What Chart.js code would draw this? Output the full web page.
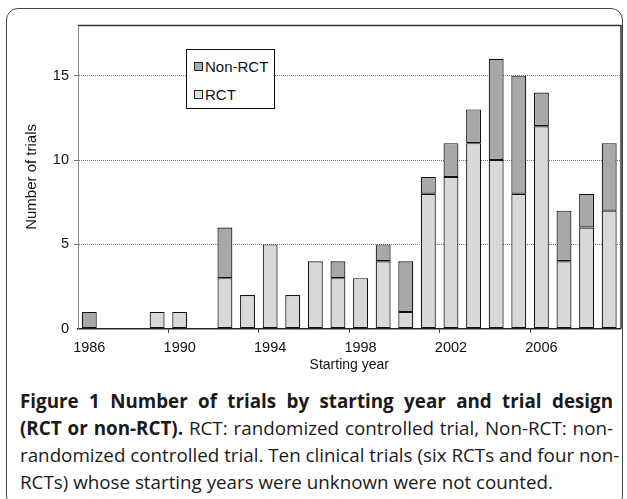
<!DOCTYPE html>
<html><head><meta charset="utf-8">
<script src="https://cdn.jsdelivr.net/npm/chart.js@4/dist/chart.umd.min.js"></script>
<style>
html,body{margin:0;padding:0;background:#fff;}
#wrap{position:relative;width:627px;height:499px;overflow:hidden;}
#frame{position:absolute;left:6px;top:8px;width:617px;height:500px;border:1.5px solid #444;border-radius:12px;box-sizing:border-box;}
#cv{position:absolute;left:0;top:0;}
#legend{position:absolute;left:186px;top:49px;width:89px;height:60px;border:1px solid #111;background:#fff;box-sizing:border-box;font-family:"Liberation Sans",Arial,sans-serif;font-size:15px;color:#111;}
.li{position:absolute;left:7px;height:16px;line-height:16px;}
.sw{display:inline-block;width:7px;height:7px;border:1px solid #222;margin-right:2px;vertical-align:1px;}
#cap{position:absolute;left:20px;top:388px;width:593px;font-family:"Open Sans",sans-serif;font-size:18.8px;line-height:27px;color:#1a1a1a;}
#cap div{text-align:justify;text-align-last:justify;white-space:nowrap;}
#cap div.last{text-align-last:left;}
</style></head>
<body><div id="wrap">
<div id="frame"></div>
<canvas id="cv" width="627" height="374"></canvas>
<div id="legend">
<div class="li" style="top:9px"><span class="sw" style="background:#acacac"></span>Non-RCT</div>
<div class="li" style="top:37px"><span class="sw" style="background:#dcdcdc"></span>RCT</div>
</div>
<div id="cap">
<div><b>Figure 1 Number of trials by starting year and trial design</b></div>
<div><b>(RCT or non-RCT).</b> RCT: randomized controlled trial, Non-RCT: non-</div>
<div>randomized controlled trial. Ten clinical trials (six RCTs and four non-</div>
<div class="last">RCTs) whose starting years were unknown were not counted.</div>
</div>
</div>
<script>
const years = ["1986","1987","1988","1989","1990","1991","1992","1993","1994","1995","1996","1997","1998","1999","2000","2001","2002","2003","2004","2005","2006","2007","2008","2009"];
const rct    = [0,0,0,1,1,0,3,2,5,2,4,3,3,4,1,8,9,11,10,8,12,4,6,7];
const nonRct = [1,0,0,0,0,0,3,0,0,0,0,1,0,1,3,1,2,2,6,7,2,3,2,4];
const yTicks = [0,5,10,15];

const frameLines = {
  id:'frameLines',
  afterDraw(chart){
    const {ctx, chartArea:a} = chart;
    ctx.save();
    ctx.strokeStyle='#333'; ctx.lineWidth=1.5;
    ctx.beginPath();
    ctx.moveTo(a.left, a.top+0.5); ctx.lineTo(a.right+0.5, a.top+0.5); ctx.lineTo(a.right+0.5, a.bottom);
    ctx.stroke();
    ctx.restore();
  }
};

const FONT = '"Liberation Sans", Arial, sans-serif';
new Chart(document.getElementById('cv'), {
  type:'bar',
  data:{
    labels: years,
    datasets:[
      {label:'RCT', data: rct, backgroundColor:'#d8d8d8', borderColor:'#111', borderWidth:1.2, borderSkipped:false, categoryPercentage:1, barPercentage:0.66},
      {label:'Non-RCT', data: nonRct, backgroundColor:'#a8a8a8', borderColor:'#111', borderWidth:1.2, borderSkipped:false, categoryPercentage:1, barPercentage:0.66}
    ]
  },
  options:{
    responsive:false, animation:false,
    layout:{padding:{left:0,right:6.5,top:25,bottom:0}},
    plugins:{legend:{display:false}, tooltip:{enabled:false}},
    scales:{
      x:{
        stacked:true,
        grid:{offset:true, drawOnChartArea:false, tickLength:4, color:(c)=> (c.index%4===0 && c.index>0) ? '#333' : 'rgba(0,0,0,0)'},
        border:{color:'#222', width:1.5},
        ticks:{autoSkip:false, maxRotation:0, padding:6, color:'#111', font:{family:FONT, size:14.5},
          callback:function(v,i){ return i%4===0 ? years[i] : ''; }},
        title:{display:true, text:'Starting year', color:'#111', padding:{top:-5,bottom:0}, font:{family:FONT, size:14}}
      },
      y:{
        stacked:true, min:0, max:18,
        afterBuildTicks:(s)=>{ s.ticks = yTicks.map(v=>({value:v})); },
        afterFit:(s)=>{ s.width = 78; },
        grid:{color:(c)=> c.tick && c.tick.value>0 ? '#777' : 'rgba(0,0,0,0)', lineWidth:1, drawTicks:true, tickLength:4},
        border:{color:'#888', width:1, dash:[1,1]},
        ticks:{padding:5, color:'#111', font:{family:FONT, size:14.5}},
        title:{display:true, text:'Number of trials', color:'#111', padding:{top:23,bottom:0}, font:{family:FONT, size:15}}
      }
    }
  },
  plugins:[frameLines]
});
</script>
</body></html>
